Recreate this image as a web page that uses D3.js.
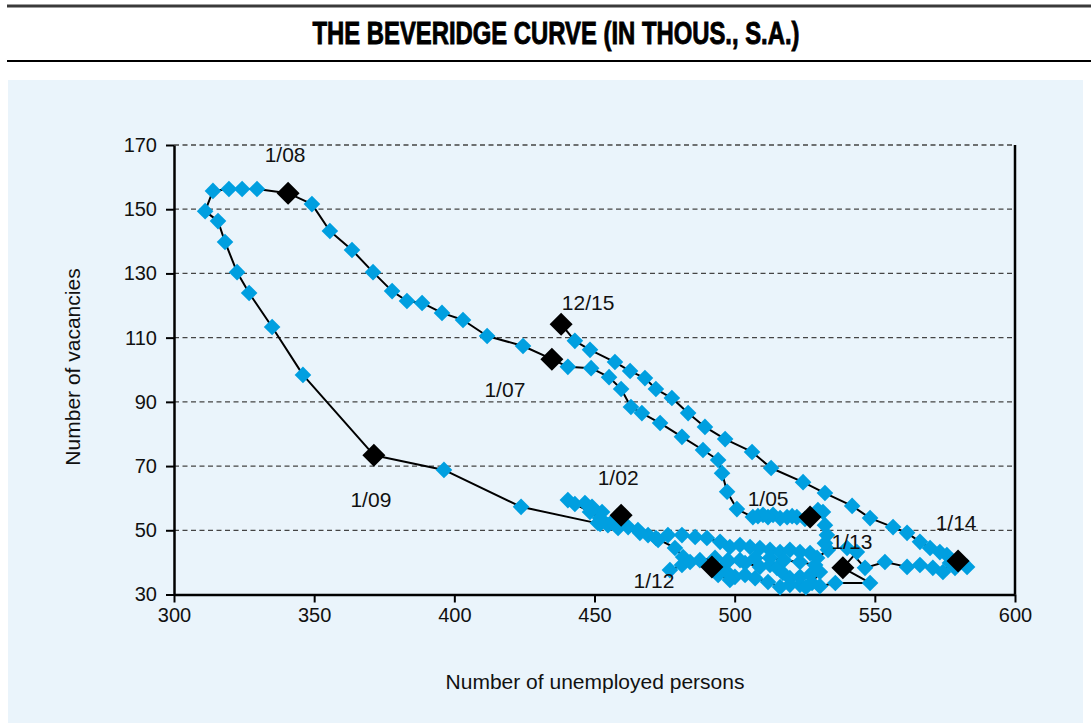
<!DOCTYPE html>
<html><head><meta charset="utf-8">
<script src="https://cdn.jsdelivr.net/npm/d3@7"></script>
<style>
body{margin:0;background:#fff;}
svg{display:block;}
text{font-family:"Liberation Sans", Arial, sans-serif;}
</style>
</head><body>
<svg id="chart" width="1091" height="725"></svg>
<script>
// ---------- data ----------
const title = "THE BEVERIDGE CURVE (IN THOUS., S.A.)";
const xLabel = "Number of unemployed persons";
const yLabel = "Number of vacancies";
const xTicks = [300, 350, 400, 450, 500, 550, 600];
const yTicks = [30, 50, 70, 90, 110, 130, 150, 170];
const startYear = 2002; // monthly, 1/02 .. 12/15

const unemployed = [
  // 2002
  459.5, 454.8, 451.2, 452.7, 449.1, 446.6, 440.5, 443.0, 448.4, 452.0, 456.2, 462.0,
  // 2003
  465.5, 469.1, 472.7, 476.2, 481.2, 485.9, 490.1, 494.8, 498.3, 501.9, 505.5, 509.0,
  // 2004
  512.6, 516.2, 519.7, 523.3, 526.9, 529.4, 533.3, 532.2, 532.9, 532.2, 531.5, 529.7,
  // 2005
  526.9, 525.1, 522.2, 520.5, 518.7, 516.2, 513.7, 511.9, 510.1, 508.3, 506.5, 500.8,
  // 2006
  497.3, 495.5, 494.1, 488.7, 481.2, 473.4, 466.9, 463.0, 459.5, 455.2, 448.8, 440.5,
  // 2007
  434.8, 424.5, 411.7, 403.1, 395.6, 388.5, 383.1, 377.8, 371.0, 363.5, 355.6, 349.2,
  // 2008
  340.7, 329.6, 324.3, 319.6, 313.9, 311.1, 315.7, 318.2, 322.5, 326.8, 335.0, 346.0,
  // 2009
  371.3, 396.3, 423.8, 452.0, 458.4, 466.2, 471.9, 478.7, 481.6, 481.2, 476.9, 484.1,
  // 2010
  487.6, 493.0, 497.6, 503.7, 509.0, 512.6, 515.1, 517.2, 519.7, 523.3, 526.9, 530.4,
  // 2011
  527.6, 523.3, 519.7, 516.2, 511.9, 507.3, 503.7, 500.1, 497.6, 494.8, 494.1, 498.3,
  // 2012
  491.9, 497.4, 501.9, 507.3, 512.6, 517.6, 523.3, 528.7, 525.4, 530.4, 535.9, 548.3,
  // 2013
  538.6, 543.6, 540.1, 546.5, 553.6, 561.5, 566.1, 570.7, 574.3, 576.8, 578.6, 582.9,
  // 2014
  579.7, 575.7, 573.2, 569.7, 566.1, 561.5, 556.5, 548.3, 541.9, 532.2, 524.4, 513.0,
  // 2015
  506.2, 496.6, 489.4, 483.4, 477.6, 471.9, 468.0, 462.7, 457.3, 448.4, 443.0, 438.1
];

const vacancies = [
  // 2002
  54.7, 51.6, 52.3, 55.7, 57.3, 58.5, 59.4, 58.2, 55.7, 53.8, 52.6, 51.0,
  // 2003
  50.1, 48.5, 47.0, 48.5, 48.5, 47.9, 47.6, 46.4, 44.8, 45.4, 44.8, 44.5,
  // 2004
  43.9, 43.2, 43.9, 43.2, 42.9, 41.4, 43.9, 46.0, 48.5, 51.6, 55.7, 56.3,
  // 2005
  54.1, 53.5, 54.1, 54.4, 54.1, 53.8, 54.8, 54.1, 54.8, 54.4, 54.1, 56.6,
  // 2006
  62.0, 67.8, 71.9, 75.0, 79.1, 83.4, 86.5, 88.4, 94.0, 97.7, 100.5, 100.9,
  // 2007
  103.3, 107.4, 110.5, 115.5, 117.7, 120.8, 121.4, 124.5, 130.4, 137.3, 143.2, 151.6,
  // 2008
  155.0, 156.3, 156.3, 156.3, 155.7, 149.4, 146.3, 139.8, 130.4, 123.9, 113.3, 98.4,
  // 2009
  73.4, 68.8, 57.3, 52.0, 50.7, 49.2, 47.6, 44.5, 41.7, 39.2, 37.6, 40.1,
  // 2010
  40.7, 41.4, 40.7, 39.8, 38.6, 39.2, 38.3, 36.7, 35.1, 35.5, 36.1, 37.0,
  // 2011
  33.6, 33.0, 33.0, 32.3, 33.9, 35.1, 36.1, 35.5, 36.7, 37.6, 36.1, 34.5,
  // 2012
  38.6, 40.1, 40.7, 41.4, 41.4, 40.7, 40.1, 39.2, 32.3, 32.6, 33.6, 33.6,
  // 2013
  38.3, 43.2, 44.5, 38.3, 40.1, 38.6, 39.2, 38.3, 37.0, 39.8, 38.3, 38.6,
  // 2014
  40.4, 42.3, 43.2, 44.5, 46.4, 49.2, 51.0, 53.8, 57.6, 61.6, 65.0, 69.4,
  // 2015
  74.4, 78.4, 82.2, 86.5, 91.2, 94.0, 97.4, 99.6, 102.4, 106.2, 109.0, 114.2
];

const highlighted = ["1/02", "1/05", "1/07", "1/08", "1/09", "1/12", "1/13", "1/14", "12/15"];

// ---------- layout / style ----------
const labelOffsets = {
  "1/02": [-3, -30], "1/05": [-42, -11], "1/07": [-47, 38], "1/08": [-3, -31],
  "1/09": [-3, 52], "1/12": [-58, 21], "1/13": [9, -19], "1/14": [-2, -31], "12/15": [27, -14]
};
const BLUE = "#009fe0";

const points = unemployed.map((u, i) => {
  const m = i % 12 + 1, yy = (startYear + Math.floor(i / 12)) % 100;
  return { label: m + "/" + String(yy).padStart(2, "0"), u, v: vacancies[i] };
});

const svg = d3.select("#chart");

// header
svg.append("line").attr("x1", 7).attr("x2", 1091).attr("y1", 6).attr("y2", 6)
  .attr("stroke", "#3a3a3a").attr("stroke-width", 3);
svg.append("line").attr("x1", 7).attr("x2", 1091).attr("y1", 61).attr("y2", 61)
  .attr("stroke", "#000").attr("stroke-width", 2);
svg.append("text").attr("x", 556).attr("y", 44).attr("text-anchor", "middle")
  .attr("textLength", 487).attr("lengthAdjust", "spacingAndGlyphs")
  .style("font-family", "'Liberation Sans Narrow', 'Liberation Sans', sans-serif")
  .style("font-weight", "bold").style("font-size", "32px")
  .attr("stroke", "#000").attr("stroke-width", 0.9)
  .text(title);

// panel
svg.append("rect").attr("x", 8).attr("y", 80).attr("width", 1075).attr("height", 643)
  .attr("fill", "#eaf4fb");

const x = d3.scaleLinear().domain([300, 600]).range([174, 1015]);
const y = d3.scaleLinear().domain([30, 170]).range([594.5, 145]);

// grid
svg.append("g").selectAll("line").data(yTicks.filter(t => t > 30)).join("line")
  .attr("x1", x(300)).attr("x2", x(600)).attr("y1", d => y(d)).attr("y2", d => y(d))
  .attr("stroke", "#444").attr("stroke-width", 1.3).attr("stroke-dasharray", "5,3.5");

// right border
svg.append("line").attr("x1", x(600)).attr("x2", x(600)).attr("y1", y(170)).attr("y2", y(30))
  .attr("stroke", "#000").attr("stroke-width", 2.5);

// axes
const gx = svg.append("g").attr("transform", `translate(0,${y(30)})`)
  .call(d3.axisBottom(x).tickValues(xTicks).tickSize(8).tickSizeOuter(0).tickPadding(5));
const gy = svg.append("g").attr("transform", `translate(${x(300)},0)`)
  .call(d3.axisLeft(y).tickValues(yTicks).tickSize(8).tickSizeOuter(0).tickPadding(9));
[gx, gy].forEach(g => {
  g.select(".domain").attr("stroke", "#000").attr("stroke-width", 2.5);
  g.selectAll(".tick line").attr("stroke", "#000").attr("stroke-width", 2);
  g.selectAll(".tick text").attr("fill", "#111")
    .style("font-family", "'Liberation Sans', Arial, sans-serif").style("font-size", "20px");
});

// axis titles
svg.append("text").attr("x", 595).attr("y", 689).attr("text-anchor", "middle")
  .style("font-size", "21px").attr("fill", "#111").text(xLabel);
svg.append("text").attr("transform", "translate(80,367) rotate(-90)").attr("text-anchor", "middle")
  .style("font-size", "21px").attr("fill", "#111").text(yLabel);

// line
const line = d3.line().x(d => x(d.u)).y(d => y(d.v));
svg.append("path").datum(points).attr("d", line)
  .attr("fill", "none").attr("stroke", "#000").attr("stroke-width", 2).attr("stroke-linejoin", "round");

const diamond = r => `M0,${-r}L${r},0L0,${r}L${-r},0Z`;

svg.append("g").selectAll("path").data(points.filter(p => !highlighted.includes(p.label))).join("path")
  .attr("transform", d => `translate(${x(d.u)},${y(d.v)})`)
  .attr("d", diamond(8.3)).attr("fill", BLUE);

const hp = points.filter(p => highlighted.includes(p.label));
svg.append("g").selectAll("path").data(hp).join("path")
  .attr("transform", d => `translate(${x(d.u)},${y(d.v)})`)
  .attr("d", diamond(11.5)).attr("fill", "#000");

svg.append("g").selectAll("text").data(hp).join("text")
  .attr("x", d => x(d.u) + labelOffsets[d.label][0])
  .attr("y", d => y(d.v) + labelOffsets[d.label][1])
  .attr("text-anchor", "middle").style("font-size", "21px").attr("fill", "#111")
  .text(d => d.label);
</script>
</body></html>
